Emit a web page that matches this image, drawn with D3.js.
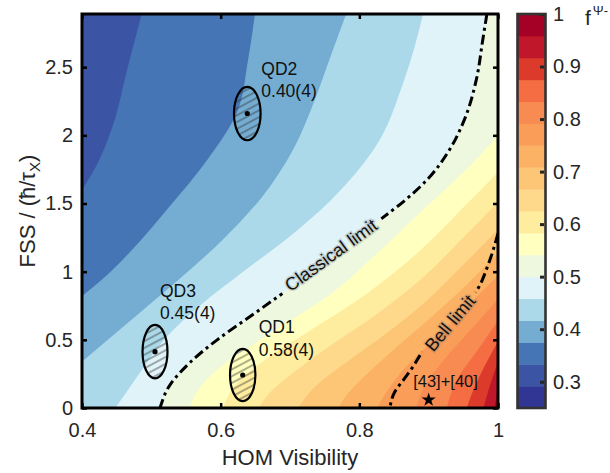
<!DOCTYPE html>
<html lang="en">
<head>
<meta charset="UTF-8">
<title>Fidelity map</title>
<script src="https://d3js.org/d3.v7.min.js"></script>
<style>
  body { margin: 0; background: #fff; }
  svg { font-family: "Liberation Sans", Arial, sans-serif; }
</style>
</head>
<body>
<svg id="chart" width="610" height="473"></svg>
<script>
// ---- data ----
const fssMax = 2.89;
const xTicks = [0.4, 0.6, 0.8, 1];
const yTicks = [0, 0.5, 1, 1.5, 2, 2.5];
const cbTicks = [0.3, 0.4, 0.5, 0.6, 0.7, 0.8, 0.9, 1];

// 18 colour bands between f = 0.25 and f = 1
const bandEdges = d3.range(19).map(i => 0.25 + i * 0.75 / 18);
const bandColors = ["#313695", "#3b54a4", "#4575b4", "#74add1", "#abd9e9", "#e0f3f8",
  "#eef8df", "#ffffbf", "#feec9f", "#fed98b", "#fdc576", "#fcb264",
  "#fa9d59", "#f88b51", "#f46d43", "#dc3b2c", "#c1172a", "#a50026"];

// iso-lines as [V, FSS], each from its upper/right end to its lower/left end
const iso02 = [[0.486, 2.89], [0.466, 2.5], [0.443, 2.05], [0.421, 1.78], [0.4, 1.6]];
const iso03 = [[0.6495, 2.89], [0.6394, 2.551], [0.6236, 2.17], [0.5803, 1.818], [0.525, 1.47], [0.474, 1.17], [0.433, 0.96], [0.4, 0.82]];
const iso04 = [[0.781, 2.89], [0.76, 2.6], [0.735, 2.25], [0.705, 1.9], [0.66, 1.55], [0.60, 1.22], [0.53, 0.9], [0.465, 0.62], [0.4, 0.34]];
const iso05 = [[0.892, 2.89], [0.865, 2.41], [0.82, 1.89], [0.76, 1.53], [0.695, 1.24], [0.63, 0.99], [0.57, 0.75],
  [0.52, 0.51], [0.485, 0.27], [0.462, 0.1], [0.448, 0]];
const iso06 = [[0.984, 2.89], [0.978, 2.7], [0.969, 2.414], [0.952, 2.121], [0.928, 1.877], [0.899, 1.681], [0.865, 1.52],
  [0.827, 1.37], [0.762, 1.107], [0.70, 0.88], [0.645, 0.68], [0.595, 0.5], [0.555, 0.33], [0.527, 0.17], [0.5125, 0]];
const iso07 = [[1, 2.0], [0.97, 1.83], [0.94, 1.68], [0.889, 1.44], [0.82, 1.107], [0.76, 0.84], [0.697, 0.63],
  [0.645, 0.46], [0.60, 0.3], [0.57, 0.15], [0.555, 0]];
const iso08 = [[1, 1.73], [0.95, 1.47], [0.88, 1.12], [0.80, 0.80], [0.72, 0.54], [0.66, 0.34], [0.62, 0.16], [0.603, 0]];
const iso09 = [[1, 1.51], [0.95, 1.25], [0.89, 0.95], [0.82, 0.67], [0.75, 0.43], [0.70, 0.24], [0.667, 0.09], [0.655, 0]];
const iso10 = [[1, 1.31], [0.95, 1.05], [0.90, 0.80], [0.84, 0.55], [0.78, 0.33], [0.735, 0.15], [0.712, 0]];
const iso11 = [[1, 1.14], [0.95, 0.88], [0.90, 0.65], [0.85, 0.43], [0.805, 0.22], [0.778, 0.07], [0.77, 0]];
const iso12 = [[1, 0.97], [0.95, 0.72], [0.905, 0.49], [0.865, 0.29], [0.837, 0.1], [0.826, 0]];
const iso13 = [[1, 0.80], [0.96, 0.57], [0.92, 0.34], [0.893, 0.15], [0.882, 0]];
const iso14 = [[1, 0.64], [0.97, 0.42], [0.94, 0.2], [0.926, 0]];
const iso15 = [[1, 0.49], [0.98, 0.3], [0.962, 0.1], [0.955, 0]];
const iso16 = [[1, 0.34], [0.988, 0.16], [0.979, 0]];
const iso17 = [[1, 0.17], [0.997, 0.06], [0.995, 0]];
const isoLines = [[2, iso02], [3, iso03], [4, iso04], [5, iso05], [6, iso06], [7, iso07], [8, iso08], [9, iso09],
  [10, iso10], [11, iso11], [12, iso12], [13, iso13], [14, iso14], [15, iso15], [16, iso16], [17, iso17]];

const classicalLimit = iso06;
const bellLimit = [[1, 1.28], [0.9856, 1.048], [0.971, 0.875], [0.931, 0.63], [0.894, 0.435], [0.877, 0.3],
  [0.865, 0.215], [0.851, 0.117], [0.844, 0]];

const dots = [
  { name: "QD2", fid: "0.40(4)", v: 0.6384, fss: 2.16, dv: 0.0192, dfss: 0.196 },
  { name: "QD3", fid: "0.45(4)", v: 0.5053, fss: 0.413, dv: 0.018, dfss: 0.196 },
  { name: "QD1", fid: "0.58(4)", v: 0.6318, fss: 0.242, dv: 0.0183, dfss: 0.192 }
];
const refPoint = { label: "[43]+[40]", v: 0.9, fss: 0.06 };

// ---- drawing ----
const svg = d3.select("#chart");
const x = d3.scaleLinear().domain([0.4, 1]).range([82, 498]);
const y = d3.scaleLinear().domain([0, fssMax]).range([408, 14]);
const cy = d3.scaleLinear().domain([0.25, 1]).range([408, 14]);
const ink = "#262626";

const defs = svg.append("defs");
defs.append("clipPath").attr("id", "plotClip")
  .append("rect").attr("x", 82).attr("y", 14).attr("width", 416).attr("height", 394);

const hatch = defs.append("pattern").attr("id", "hatch")
  .attr("patternUnits", "userSpaceOnUse").attr("width", 6).attr("height", 6)
  .attr("patternTransform", "rotate(-28)");
hatch.append("line").attr("x1", 0).attr("y1", 3).attr("x2", 6).attr("y2", 3)
  .attr("stroke", "#333").attr("stroke-width", 0.8);

const line = d3.line().x(d => x(d[0])).y(d => y(d[1])).curve(d3.curveMonotoneY);

// position of a border point on the plot perimeter (counter-clockwise from bottom-left)
function edgePos([v, f]) {
  const e = 1e-3;
  if (f < e) return (v - 0.4) / 0.6;
  if (v > 1 - e) return 1 + f / fssMax;
  if (f > fssMax - e) return 2 + (1 - v) / 0.6;
  return 3 + (fssMax - f) / fssMax;
}
const cornerPts = [[0.4, 0], [1, 0], [1, fssMax], [0.4, fssMax]];
function regionPath(pts) {
  let s = line(pts);
  const a = edgePos(pts[pts.length - 1]);
  let b = edgePos(pts[0]);
  if (b <= a) b += 4;
  for (let c = Math.floor(a) + 1; c < b; c++) {
    const k = cornerPts[c % 4];
    s += `L${x(k[0])},${y(k[1])}`;
  }
  return s + "Z";
}

const field = svg.append("g").attr("clip-path", "url(#plotClip)");
field.append("rect").attr("x", 82).attr("y", 14).attr("width", 416).attr("height", 394)
  .attr("fill", bandColors[1]);
field.selectAll("path.band").data(isoLines).join("path")
  .attr("class", "band")
  .attr("d", d => regionPath(d[1]))
  .attr("fill", d => bandColors[d[0]]);

// limit lines with gaps for their labels
const labels = [
  { text: "Classical limit", cx: 331, cy: 255, angle: -36, w: 124, pts: classicalLimit },
  { text: "Bell limit", cx: 450, cy: 323, angle: -50, w: 80, pts: bellLimit }
];
const mask = defs.append("mask").attr("id", "labelGap");
mask.append("rect").attr("x", 0).attr("y", 0).attr("width", 610).attr("height", 473).attr("fill", "#fff");
labels.forEach(l => {
  mask.append("rect").attr("x", -l.w / 2).attr("y", -9).attr("width", l.w).attr("height", 18)
    .attr("transform", `translate(${l.cx},${l.cy}) rotate(${l.angle})`).attr("fill", "#000");
});
const limits = field.append("g").attr("mask", "url(#labelGap)");
labels.forEach(l => {
  limits.append("path").attr("d", line(l.pts)).attr("fill", "none")
    .attr("stroke", "#000").attr("stroke-width", 3)
    .attr("stroke-dasharray", "10,4,3,4");
});
labels.forEach(l => {
  svg.append("text").attr("transform", `translate(${l.cx},${l.cy}) rotate(${l.angle})`)
    .attr("text-anchor", "middle").attr("dy", "0.35em")
    .attr("font-size", 18).attr("fill", "#111")
    .attr("stroke", "rgba(120,120,120,0.25)").attr("stroke-width", 3)
    .attr("paint-order", "stroke")
    .text(l.text);
});

// quantum dot measurements
const qd = svg.append("g");
qd.selectAll("ellipse").data(dots).join("ellipse")
  .attr("cx", d => x(d.v)).attr("cy", d => y(d.fss))
  .attr("rx", d => x(d.v + d.dv) - x(d.v)).attr("ry", d => y(d.fss) - y(d.fss + d.dfss))
  .attr("fill", "url(#hatch)").attr("stroke", "#000").attr("stroke-width", 2.2);
qd.selectAll("circle").data(dots).join("circle")
  .attr("cx", d => x(d.v)).attr("cy", d => y(d.fss)).attr("r", 2.6).attr("fill", "#000");
const labelShift = { QD2: [14, -39], QD3: [5, -55], QD1: [16, -42] };
dots.forEach(d => {
  const [dx, dy] = labelShift[d.name];
  const t = qd.append("text").attr("font-size", 17.5).attr("fill", "#111");
  t.append("tspan").attr("x", x(d.v) + dx).attr("y", y(d.fss) + dy).text(d.name);
  t.append("tspan").attr("x", x(d.v) + dx).attr("y", y(d.fss) + dy + 22.5).text(d.fid);
});

// reference point
svg.append("path").attr("d", d3.symbol(d3.symbolStar, 62)())
  .attr("transform", `translate(${x(refPoint.v)},${y(refPoint.fss)})`).attr("fill", "#000");
svg.append("text").attr("x", x(refPoint.v) - 15.5).attr("y", y(refPoint.fss) - 12.5)
  .attr("font-size", 16.5).attr("fill", "#111").text(refPoint.label);

// axes
function styleAxis(g) {
  g.select(".domain").remove();
  g.selectAll(".tick line").attr("stroke", "#000").attr("stroke-width", 2.5);
  g.selectAll(".tick text").attr("fill", ink).attr("font-size", 20)
    .attr("font-family", "Liberation Sans, Arial, sans-serif");
}
const fmt = d => String(d);
svg.append("g").attr("transform", "translate(0,408)")
  .call(d3.axisBottom(x).tickValues(xTicks).tickFormat(fmt).tickSize(-5).tickPadding(15)).call(styleAxis);
svg.append("g").attr("transform", "translate(0,14)")
  .call(d3.axisTop(x).tickValues(xTicks).tickFormat("").tickSize(-5)).call(styleAxis);
svg.append("g").attr("transform", "translate(82,0)")
  .call(d3.axisLeft(y).tickValues(yTicks).tickFormat(fmt).tickSize(-5).tickPadding(9)).call(styleAxis);
svg.append("g").attr("transform", "translate(498,0)")
  .call(d3.axisRight(y).tickValues(yTicks).tickFormat("").tickSize(-5)).call(styleAxis);

svg.append("rect").attr("x", 82).attr("y", 14).attr("width", 416).attr("height", 394)
  .attr("fill", "none").attr("stroke", "#000").attr("stroke-width", 3);

svg.append("text").attr("x", 290).attr("y", 465).attr("text-anchor", "middle")
  .attr("font-size", 22).attr("fill", ink).text("HOM Visibility");
const yl = svg.append("text").attr("transform", "translate(35,211) rotate(-90)")
  .attr("text-anchor", "middle").attr("font-size", 22).attr("fill", ink);
yl.append("tspan").text("FSS / (\u0127/\u03c4");
yl.append("tspan").attr("font-size", 15).attr("dy", 5).text("X");
yl.append("tspan").attr("dy", -5).text(")");

// colour bar
const cb = svg.append("g");
cb.selectAll("rect").data(bandColors).join("rect")
  .attr("x", 517.5).attr("width", 28)
  .attr("y", (d, i) => cy(bandEdges[i + 1]))
  .attr("height", (d, i) => cy(bandEdges[i]) - cy(bandEdges[i + 1]) + 0.5)
  .attr("fill", d => d);
svg.append("g").attr("transform", "translate(544,0)")
  .call(d3.axisRight(cy).tickValues(cbTicks).tickFormat(fmt).tickSize(-4).tickPadding(9))
  .call(styleAxis)
  .call(g => g.selectAll(".tick line").attr("stroke", ink).attr("stroke-width", 3));
svg.append("rect").attr("x", 517.5).attr("y", 14).attr("width", 28).attr("height", 394)
  .attr("fill", "none").attr("stroke", "#333").attr("stroke-width", 2.6);
const ct = svg.append("text").attr("x", 585).attr("y", 25).attr("font-size", 21).attr("fill", ink);
ct.append("tspan").text("f");
ct.append("tspan").attr("font-size", 13).attr("dy", -10).attr("dx", 2).text("\u03a8-");
</script>
</body>
</html>
